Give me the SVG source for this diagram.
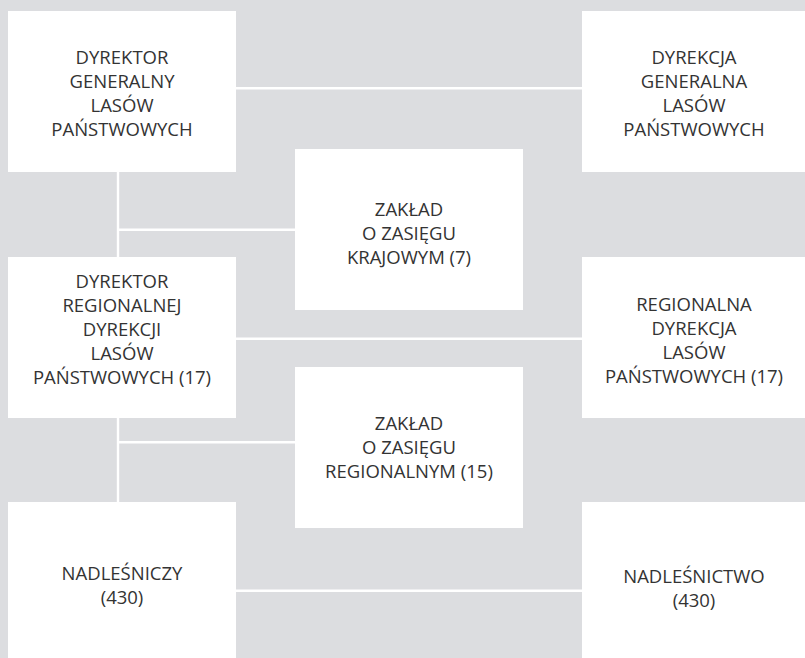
<svg xmlns="http://www.w3.org/2000/svg" width="805" height="658" viewBox="0 0 805 658">
<style>
.bg{fill:#dcdde0}
.box{fill:#ffffff}
.lbl{font-family:"Open Sans","Noto Sans",sans-serif;font-size:18.5px;fill:#333333;text-anchor:middle}
.conn line{stroke:#ffffff;stroke-width:2.4;fill:none}
</style>
<rect class="bg" x="0" y="0" width="805" height="658"/>
<g id="connectors" class="conn">
<line x1="236" y1="88.3" x2="582" y2="88.3"/>
<line x1="118" y1="172" x2="118" y2="257"/>
<line x1="118" y1="229.7" x2="295" y2="229.7"/>
<line x1="236" y1="338.7" x2="582" y2="338.7"/>
<line x1="118" y1="418" x2="118" y2="502"/>
<line x1="118" y1="442.2" x2="295" y2="442.2"/>
<line x1="236" y1="590.8" x2="582" y2="590.8"/>
</g>
<g id="dyrektor-generalny">
<rect class="box" x="8" y="11" width="228" height="161"/>
<text class="lbl" x="122" y="64">DYREKTOR</text>
<text class="lbl" x="122" y="88">GENERALNY</text>
<text class="lbl" x="122" y="112">LASÓW</text>
<text class="lbl" x="122" y="136">PAŃSTWOWYCH</text>
</g>
<g id="dyrekcja-generalna">
<rect class="box" x="582" y="11" width="223" height="161"/>
<text class="lbl" x="694" y="64">DYREKCJA</text>
<text class="lbl" x="694" y="88">GENERALNA</text>
<text class="lbl" x="694" y="112">LASÓW</text>
<text class="lbl" x="694" y="136">PAŃSTWOWYCH</text>
</g>
<g id="zaklad-krajowy">
<rect class="box" x="295" y="149" width="228" height="161"/>
<text class="lbl" x="409" y="216">ZAKŁAD</text>
<text class="lbl" x="409" y="240">O ZASIĘGU</text>
<text class="lbl" x="409" y="264">KRAJOWYM (7)</text>
</g>
<g id="dyrektor-regionalnej">
<rect class="box" x="8" y="257" width="228" height="161"/>
<text class="lbl" x="122" y="288">DYREKTOR</text>
<text class="lbl" x="122" y="312">REGIONALNEJ</text>
<text class="lbl" x="122" y="336">DYREKCJI</text>
<text class="lbl" x="122" y="360">LASÓW</text>
<text class="lbl" x="122" y="384">PAŃSTWOWYCH (17)</text>
</g>
<g id="regionalna-dyrekcja">
<rect class="box" x="582" y="257" width="223" height="161"/>
<text class="lbl" x="694" y="311">REGIONALNA</text>
<text class="lbl" x="694" y="335">DYREKCJA</text>
<text class="lbl" x="694" y="359">LASÓW</text>
<text class="lbl" x="694" y="383">PAŃSTWOWYCH (17)</text>
</g>
<g id="zaklad-regionalny">
<rect class="box" x="295" y="367" width="228" height="161"/>
<text class="lbl" x="409" y="430">ZAKŁAD</text>
<text class="lbl" x="409" y="454">O ZASIĘGU</text>
<text class="lbl" x="409" y="478">REGIONALNYM (15)</text>
</g>
<g id="nadlesniczy">
<rect class="box" x="8" y="502" width="228" height="156"/>
<text class="lbl" x="122" y="580">NADLEŚNICZY</text>
<text class="lbl" x="122" y="604">(430)</text>
</g>
<g id="nadlesnictwo">
<rect class="box" x="582" y="502" width="223" height="156"/>
<text class="lbl" x="694" y="583">NADLEŚNICTWO</text>
<text class="lbl" x="694" y="607">(430)</text>
</g>
</svg>
